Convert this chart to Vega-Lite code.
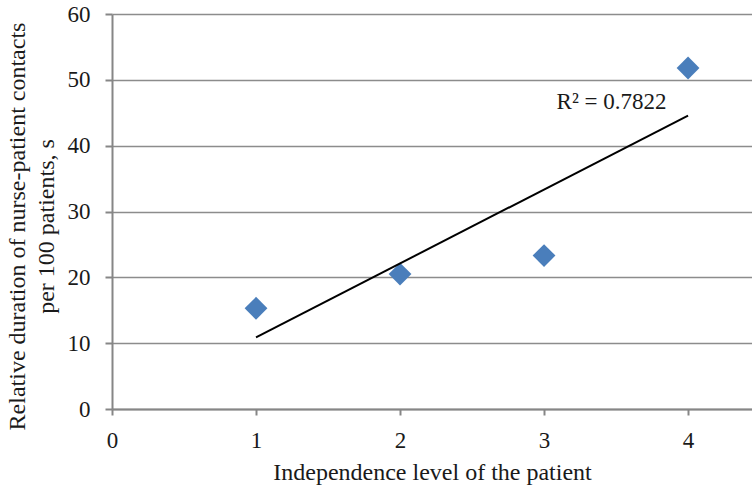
{
  "$schema": "https://vega.github.io/schema/vega-lite/v6.json",
  "width": 640,
  "height": 395,
  "autosize": "none",
  "padding": {"left": 112, "top": 14, "right": 0, "bottom": 76},
  "background": "white",
  "config": {
    "view": {"stroke": null},
    "font": "Liberation Serif",
    "axis": {
      "labelFont": "Liberation Serif",
      "titleFont": "Liberation Serif",
      "labelColor": "#1a1a1a",
      "titleColor": "#1a1a1a",
      "titleFontWeight": "normal",
      "domainColor": "#868686",
      "domainWidth": 2,
      "tickColor": "#868686",
      "tickWidth": 2,
      "gridColor": "#8c8c8c",
      "gridWidth": 1.5,
      "labelFontSize": 23,
      "titleFontSize": 24,
      "labelFlush": false
    }
  },
  "datasets": {
    "points": [
      {"level": 1, "duration": 15.3},
      {"level": 2, "duration": 20.5},
      {"level": 3, "duration": 23.3},
      {"level": 4, "duration": 51.8}
    ],
    "label": [
      {"level": 3.469, "duration": 46.6, "text": "R² = 0.7822"}
    ]
  },
  "layer": [
    {
      "data": {"name": "points"},
      "mark": {"type": "point", "shape": "diamond", "filled": true, "size": 520, "color": "#4a7ebb", "opacity": 1},
      "encoding": {
        "x": {
          "field": "level", "type": "quantitative",
          "scale": {"domain": [0, 4.444], "nice": false, "zero": true},
          "axis": {
            "values": [0, 1, 2, 3, 4],
            "format": "d",
            "grid": false,
            "labelFlush": false,
            "tickSize": 6,
            "labelPadding": 14,
            "labelFontSize": 23,
            "titleFontSize": 24,
            "title": "Independence level of the patient",
            "titlePadding": 8
          }
        },
        "y": {
          "field": "duration", "type": "quantitative",
          "scale": {"domain": [0, 60], "nice": false},
          "axis": {
            "values": [0, 10, 20, 30, 40, 50, 60],
            "format": "d",
            "grid": true,
            "labelFlush": false,
            "tickSize": 7,
            "labelPadding": 15,
            "labelFontSize": 23,
            "titleFontSize": 24,
            "title": ["Relative duration of nurse-patient contacts", "per 100 patients, s"],
            "titlePadding": 9,
            "titleLineHeight": 29,
            "titleY": 212
          }
        }
      }
    },
    {
      "data": {"name": "points"},
      "transform": [{"regression": "duration", "on": "level", "extent": [1, 4]}],
      "mark": {"type": "line", "color": "black", "strokeWidth": 2},
      "encoding": {
        "x": {"field": "level", "type": "quantitative"},
        "y": {"field": "duration", "type": "quantitative"}
      }
    },
    {
      "data": {"name": "label"},
      "mark": {"type": "text", "fontSize": 23, "font": "Liberation Serif", "color": "#1a1a1a", "align": "center", "baseline": "middle"},
      "encoding": {
        "x": {"field": "level", "type": "quantitative"},
        "y": {"field": "duration", "type": "quantitative"},
        "text": {"field": "text"}
      }
    }
  ]
}
